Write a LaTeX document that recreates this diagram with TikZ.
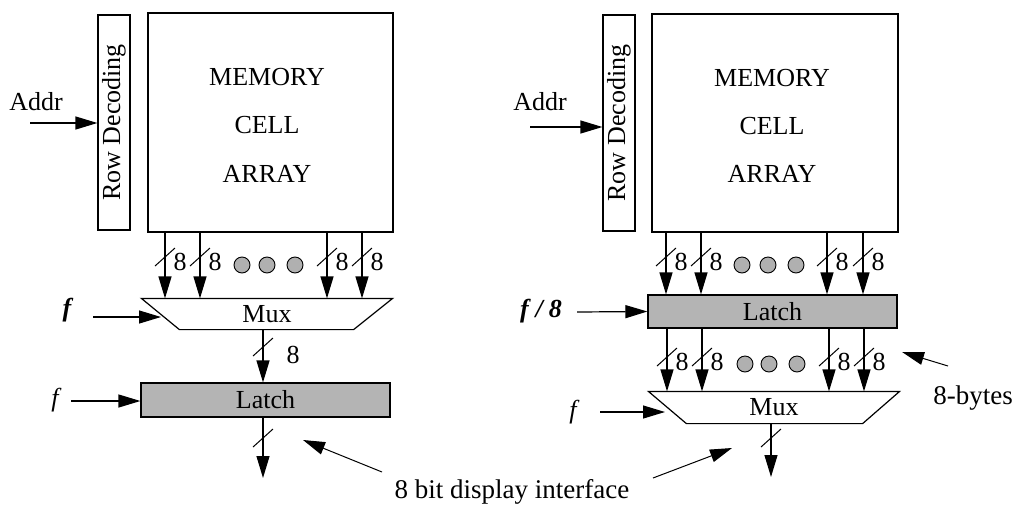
\documentclass[tikz,border=0pt]{standalone}
\usepackage{fontspec}
\setmainfont{Liberation Serif}
\usetikzlibrary{arrows.meta,calc}
\definecolor{latchgray}{HTML}{B4B4B4}
\definecolor{dotgray}{HTML}{B0B0B0}
\begin{document}
\begin{tikzpicture}[x=1pt,y=-1pt,line width=1.2pt,
  every node/.style={font=\fontsize{26}{28}\selectfont,inner sep=0pt},
  arr/.style={-{Triangle[length=22pt,width=13pt]}},
  ptr/.style={line width=1pt,-{Triangle[length=22pt,width=13pt]}},
  note/.style={font=\fontsize{27}{29}\selectfont},
  latchbox/.style={draw,fill=latchgray},
  muxarea/.style={minimum width=250pt,minimum height=30pt},
  busdot/.style={circle,draw,fill=dotgray,line width=0.9pt,minimum size=16pt},
  pics/cut/.style={code={\draw[line width=1pt] (-10,9) -- (10,-9);}}
]
\useasboundingbox (0,0) rectangle (1018,507);

% ---------------- left: mux before latch ----------------
\node[draw,minimum width=32pt,minimum height=215pt] (rowL) at (114,122.5) {};
\node[rotate=90] at (rowL.center) {Row Decoding};
\node[draw,minimum width=245pt,minimum height=219pt] (memL) at (270.5,122.5) {};
\node[anchor=base] (memL1) at (267,85) {MEMORY};
\node[anchor=base] (memL2) at (267,133) {CELL};
\node[anchor=base] (memL3) at (267,182) {ARRAY};
\node[anchor=base] (addrL) at (36,110) {Addr};
\coordinate (addrLs) at (30,123);
\draw[arr] (addrLs) -- (addrLs -| rowL.west);

\node[muxarea] (muxL) at (267,314) {Mux};
\draw (muxL.north west) -- (muxL.north east) -- ($(muxL.south east)+(-39,0)$)
      -- ($(muxL.south west)+(38,0)$) -- cycle;

\foreach \x in {165,200,327,362} {
  \draw[arr] (\x,0 |- memL.south) -- (\x,0 |- muxL.north);
  \pic at (\x,257) {cut};
  \node at (\x+15,262) {8};
}
\foreach \x in {242,267,295} \node[busdot] at (\x,265) {};

\node[font=\fontsize{26}{28}\selectfont\bfseries\itshape] (fL1) at (67,310) {f};
\coordinate (fL1s) at (93,317);
\draw[arr] (fL1s) -- (161,317);

\node[latchbox,minimum width=249pt,minimum height=34pt] (latchL) at (265.5,400) {Latch};
\draw[arr] (263,0 |- muxL.south) -- (263,0 |- latchL.north);
\pic at (263,347) {cut};
\node at (293,355) {8};

\node[font=\fontsize{26}{28}\selectfont\itshape] (fL2) at (55,400) {f};
\coordinate (fL2s) at (71,401);
\draw[arr] (fL2s) -- (fL2s -| latchL.west);

\coordinate (outL) at (263,478);
\draw[arr] (263,0 |- latchL.south) -- (outL);
\pic at (263,438) {cut};

% ---------------- right: latch before mux ----------------
\node[draw,minimum width=32pt,minimum height=216pt] (rowR) at (619,123) {};
\node[rotate=90] at (rowR.center) {Row Decoding};
\node[draw,minimum width=246pt,minimum height=218pt] (memR) at (775,123) {};
\node[anchor=base] (memR1) at (772,86) {MEMORY};
\node[anchor=base] (memR2) at (772,134) {CELL};
\node[anchor=base] (memR3) at (772,182) {ARRAY};
\node[anchor=base] (addrR) at (540,110) {Addr};
\coordinate (addrRs) at (530,127);
\draw[arr] (addrRs) -- (addrRs -| rowR.west);

\node[latchbox,minimum width=249pt,minimum height=33pt] (latchR) at (772.5,311.5) {Latch};
\foreach \x in {666,701,827,863} {
  \draw[arr] (\x,0 |- memR.south) -- (\x,0 |- latchR.north);
  \pic at (\x,257) {cut};
  \node at (\x+15,262) {8};
}
\foreach \x in {742,768,796} \node[busdot] at (\x,265) {};

\node[font=\fontsize{26}{28}\selectfont\bfseries\itshape] (fR1) at (541,311) {f\hspace{7pt}/\hspace{6pt}8};
\coordinate (fR1s) at (577,312);
\draw[arr] (fR1s) -- (latchR.west);

\node[muxarea,minimum height=31pt] (muxR) at (774,407.5) {Mux};
\draw (muxR.north west) -- (muxR.north east) -- ($(muxR.south east)+(-37,0)$)
      -- ($(muxR.south west)+(38,0)$) -- cycle;
\foreach \x in {667,702,829,864} {
  \draw[arr] (\x,0 |- latchR.south) -- (\x,0 |- muxR.north);
  \pic at (\x,357) {cut};
  \node at (\x+15,362) {8};
}
\foreach \x in {745,769,797} \node[busdot] at (\x,364) {};

\node[font=\fontsize{26}{28}\selectfont\itshape] (fR2) at (573,412) {f};
\coordinate (fR2s) at (600,412);
\draw[arr] (fR2s) -- (665,412);

\coordinate (outR) at (771,477);
\draw[arr] (771,0 |- muxR.south) -- (outR);
\pic at (771,438) {cut};

% ---------------- annotations ----------------
\node[note] (bytes) at (973,398) {8-bytes};
\coordinate (bytesTip) at (902,352);
\draw[ptr] (948,366) -- (bytesTip);

\node[note] (iface) at (512,492) {8 bit display interface};
\coordinate (ifaceTipL) at (303,440);
\coordinate (ifaceTipR) at (732,448);
\draw[ptr] (382,472) -- (ifaceTipL);
\draw[ptr] (653,478) -- (ifaceTipR);
\end{tikzpicture}
\end{document}
